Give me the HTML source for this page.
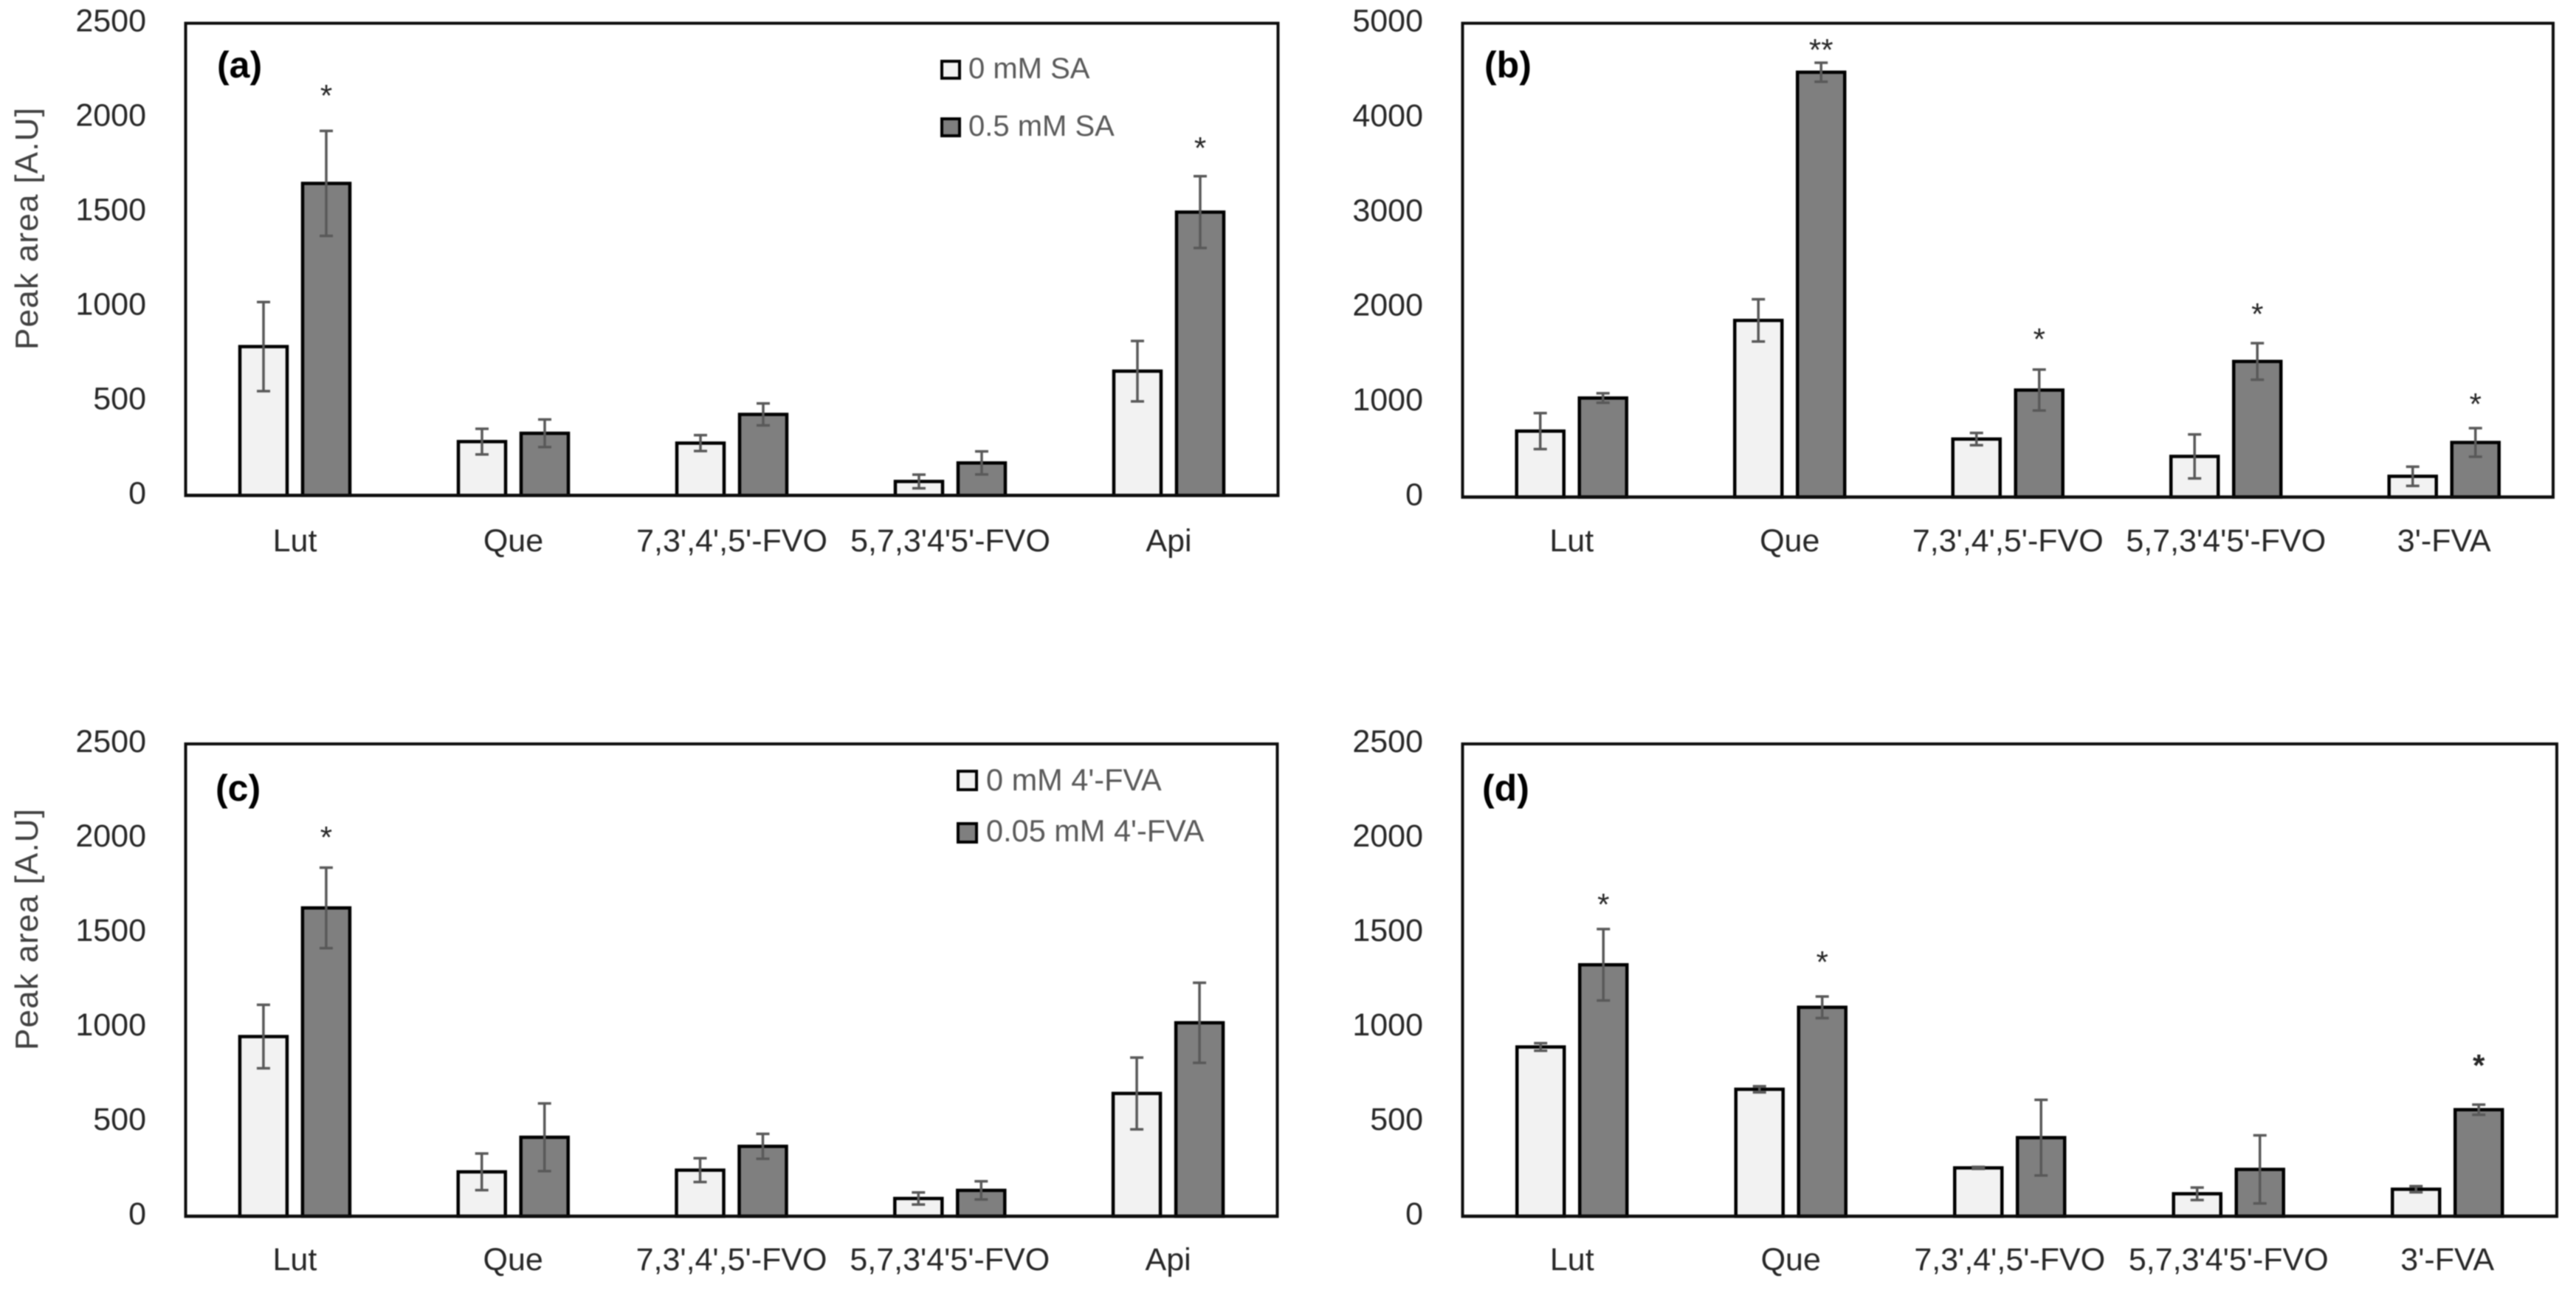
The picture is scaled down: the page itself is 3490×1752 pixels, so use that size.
<!DOCTYPE html>
<html lang="en">
<head>
<meta charset="utf-8">
<title>Peak area bar charts</title>
<style>
html,body{margin:0;padding:0;background:#fff;}
body{width:3490px;height:1752px;overflow:hidden;}
svg{display:block;font-family:"Liberation Sans",sans-serif;filter:blur(0.7px);}
.tick,.cat{font-size:43px;fill:#262626;}
.ytitle{font-size:44px;fill:#404040;}
.plabel{font-size:50px;font-weight:bold;fill:#000;}
.legend{font-size:40px;fill:#595959;}
.legend-wide{font-size:41.5px;fill:#595959;}
.star{font-size:42px;fill:#262626;text-anchor:middle;}
</style>
</head>
<body>
<svg id="figure" xmlns="http://www.w3.org/2000/svg" width="3490" height="1752" viewBox="0 0 3490 1752">
  <rect x="0" y="0" width="3490" height="1752" fill="#ffffff"/>
  <g id="panel-a"></g>
  <g id="panel-b"></g>
  <g id="panel-c"></g>
  <g id="panel-d"></g>

  <text class="ytitle" transform="translate(51,474) rotate(-90)" textLength="328" lengthAdjust="spacing">Peak area [A.U]</text>
  <text class="ytitle" transform="translate(51,1423) rotate(-90)" textLength="327" lengthAdjust="spacing">Peak area [A.U]</text>

  <text class="plabel" x="294" y="105">(a)</text>
  <text class="plabel" x="2011" y="105">(b)</text>
  <text class="plabel" x="292" y="1085">(c)</text>
  <text class="plabel" x="2008" y="1085">(d)</text>

  <g>
    <rect x="1276" y="83" width="24" height="23" fill="#f2f2f2" stroke="#000" stroke-width="4"/>
    <text class="legend" x="1312" y="106">0 mM SA</text>
    <rect x="1276" y="161" width="24" height="23" fill="#7f7f7f" stroke="#000" stroke-width="4"/>
    <text class="legend" x="1312" y="184">0.5 mM SA</text>
  </g>
  <g>
    <rect x="1298" y="1045" width="25" height="25" fill="#f2f2f2" stroke="#000" stroke-width="4"/>
    <text class="legend-wide" x="1336" y="1071">0 mM 4'-FVA</text>
    <rect x="1298" y="1116" width="25" height="25" fill="#7f7f7f" stroke="#000" stroke-width="4"/>
    <text class="legend-wide" x="1336" y="1140">0.05 mM 4'-FVA</text>
  </g>
</svg>

<script>
// ---- chart data ----
const categoriesA = ["Lut", "Que", "7,3',4',5'-FVO", "5,7,3'4'5'-FVO", "Api"];
const categoriesB = ["Lut", "Que", "7,3',4',5'-FVO", "5,7,3'4'5'-FVO", "3'-FVA"];
const categoriesC = ["Lut", "Que", "7,3',4',5'-FVO", "5,7,3'4'5'-FVO", "Api"];
const categoriesD = ["Lut", "Que", "7,3',4',5'-FVO", "5,7,3'4'5'-FVO", "3'-FVA"];

const ticksA = [0, 500, 1000, 1500, 2000, 2500];
const ticksB = [0, 1000, 2000, 3000, 4000, 5000];
const ticksC = [0, 500, 1000, 1500, 2000, 2500];
const ticksD = [0, 500, 1000, 1500, 2000, 2500];

const controlA = [788, 285, 277, 74, 658];
const treatedA = [1652, 329, 429, 172, 1500];
const controlErrA = [236, 68, 42, 36, 160];
const treatedErrA = [278, 73, 58, 61, 190];
const starTextA = ["*", "", "", "", "*"];
const starLevelA = [2138, 0, 0, 0, 1861];

const controlB = [696, 1864, 612, 429, 219];
const treatedB = [1045, 4483, 1129, 1431, 576];
const controlErrB = [190, 223, 65, 232, 101];
const treatedErrB = [50, 100, 216, 193, 151];
const starTextB = ["", "**", "*", "*", "*"];
const starLevelB = [0, 4762, 1709, 1975, 1023];

const controlC = [951, 235, 244, 94, 650];
const treatedC = [1632, 418, 370, 137, 1024];
const controlErrC = [168, 97, 63, 32, 190];
const treatedErrC = [213, 179, 66, 48, 212];
const starTextC = ["*", "", "", "", ""];
const starLevelC = [2027, 0, 0, 0, 0];

const controlD = [896, 672, 256, 119, 143];
const treatedD = [1331, 1106, 416, 248, 564];
const controlErrD = [20, 16, 5, 33, 16];
const treatedErrD = [189, 57, 200, 180, 27];
const starTextD = ["*", "*", "", "", "*"];
const starLevelD = [1672, 1367, 0, 0, 820];
const starWeightD = ["normal", "normal", "normal", "normal", "bold"];

// ---- panel layout (geometry only) ----
const panels = [
  {id:'a', left:251.5, right:1731.5, top:31.5, bottom:671.3, max:2500, labelY:747,
   cats:categoriesA, ticks:ticksA, s0:controlA, s1:treatedA, e0:controlErrA, e1:treatedErrA, st:starTextA, sl:starLevelA},
  {id:'b', left:1981.5, right:3459, top:31.5, bottom:673.5, max:5000, labelY:747,
   cats:categoriesB, ticks:ticksB, s0:controlB, s1:treatedB, e0:controlErrB, e1:treatedErrB, st:starTextB, sl:starLevelB},
  {id:'c', left:251.5, right:1730.5, top:1008, bottom:1648, max:2500, labelY:1721,
   cats:categoriesC, ticks:ticksC, s0:controlC, s1:treatedC, e0:controlErrC, e1:treatedErrC, st:starTextC, sl:starLevelC},
  {id:'d', left:1981.5, right:3464, top:1008, bottom:1648, max:2500, labelY:1721,
   cats:categoriesD, ticks:ticksD, s0:controlD, s1:treatedD, e0:controlErrD, e1:treatedErrD, st:starTextD, sl:starLevelD, sw:starWeightD}
];

const SVG_NS = 'http://www.w3.org/2000/svg';
function mk(parent, tag, attrs) {
  const node = document.createElementNS(SVG_NS, tag);
  for (const k in attrs) node.setAttribute(k, attrs[k]);
  parent.appendChild(node);
  return node;
}
function yScale(p, v) { return p.bottom - (v / p.max) * (p.bottom - p.top); }
function xCenter(p, i) { return p.left + (p.right - p.left) * (i + 0.5) / p.cats.length; }

const BAR_W = 64;
const BAR_OFFSET = 42.5;
const CAP_HALF = 9;

function drawPanel(p) {
  const g = document.getElementById('panel-' + p.id);

  const frame = mk(g, 'rect', {x:p.left, y:p.top, width:p.right-p.left, height:p.bottom-p.top, fill:'none', stroke:'#0d0d0d', 'stroke-width':4});
  
  

  p.ticks.forEach(function (t) {
    const tick = mk(g, 'text', {class:'tick', x:198 + (p.left - 251.5), y:yScale(p, t) + 11, 'text-anchor':'end'});
    tick.textContent = String(t);
    
    
  });

  p.cats.forEach(function (name, i) {
    const cx = xCenter(p, i);
    const x0 = cx - BAR_OFFSET;
    const x1 = cx + BAR_OFFSET;

    const bar0 = mk(g, 'rect', {x:x0 - BAR_W/2, y:yScale(p, p.s0[i]), width:BAR_W, height:p.bottom - yScale(p, p.s0[i]), fill:'#f2f2f2', stroke:'#000', 'stroke-width':4.5});
    
    

    const bar1 = mk(g, 'rect', {x:x1 - BAR_W/2, y:yScale(p, p.s1[i]), width:BAR_W, height:p.bottom - yScale(p, p.s1[i]), fill:'#7f7f7f', stroke:'#000', 'stroke-width':4.5});
    
    

    [[x0, p.s0[i], p.e0[i]], [x1, p.s1[i], p.e1[i]]].forEach(function (d, j) {
      const hi = yScale(p, d[1] + d[2]);
      const lo = yScale(p, d[1] - d[2]);
      const err = mk(g, 'path', {d:'M' + (d[0]-CAP_HALF) + ' ' + hi + 'H' + (d[0]+CAP_HALF) + 'M' + d[0] + ' ' + hi + 'V' + lo + 'M' + (d[0]-CAP_HALF) + ' ' + lo + 'H' + (d[0]+CAP_HALF), fill:'none', stroke:'#595959', 'stroke-width':3.5});
      
      
    });

    if (p.st[i]) {
      const star = mk(g, 'text', {class:'star', x:x1, y:yScale(p, p.sl[i]) + 20, 'font-weight':p.sw ? p.sw[i] : 'normal'});
      star.textContent = p.st[i];
      
      
    }

    const label = mk(g, 'text', {class:'cat', x:cx, y:p.labelY, 'text-anchor':'middle'});
    label.textContent = name;
    
    
  });

  const axis = mk(g, 'line', {x1:p.left - 2, x2:p.right + 2, y1:p.bottom, y2:p.bottom, stroke:'#0d0d0d', 'stroke-width':4.5});
  
  
}

panels.forEach(drawPanel);
</script>
</body>
</html>
